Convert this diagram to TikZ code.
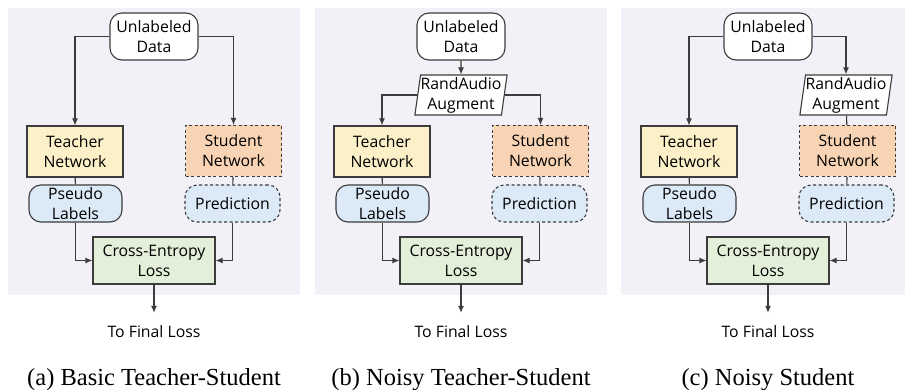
\documentclass[tikz,border=0pt]{standalone}
\usepackage{fontspec}
\setmainfont{Liberation Serif}
\setsansfont{Open Sans}
\usetikzlibrary{arrows.meta,positioning,shapes.geometric}
\definecolor{panelbg}{RGB}{241,241,247}
\definecolor{edge}{RGB}{60,60,60}
\definecolor{teacherfill}{RGB}{252,240,200}
\definecolor{studentfill}{RGB}{248,212,180}
\definecolor{labelfill}{RGB}{220,233,246}
\definecolor{lossfill}{RGB}{227,239,217}

% teacher/student branches, loss and caption shared by all three panels
\newcommand{\tsbody}[1]{%
  \node[netbox,fill=teacherfill] (teacher) at (75,151.5) {Teacher\\Network};
  \node[netbox,dashed,fill=studentfill] (student) at (233.5,151) {Student\\Network};
  \node[outbox,minimum width=93pt] (pseudo) at (75.5,203.5) {Pseudo\\Labels};
  \node[outbox,dashed,minimum width=95pt] (pred) at (232.5,203.5) {Prediction};
  \node[box,fill=lossfill,minimum width=122pt,minimum height=47pt] (ce) at (154,260.5) {Cross-Entropy\\Loss};
  \node[anchor=base,inner sep=0pt] (final) at (154,337) {To Final Loss};
  \node[caption] (cap) at (154,385) {#1};
  \draw[wire] (teacher) -- (pseudo);
  \draw[wire] (student) -- (pred);
  \draw[arrow] (pseudo.south) |- (ce.west);
  \draw[arrow] (pred.south) |- (ce.east);
  \draw[arrow] (ce.south) -- ([yshift=12pt]final.north);
}

\begin{document}
\begin{tikzpicture}[
    x=1pt,y=-1pt,
    font=\sffamily\fontsize{15.8}{20}\selectfont,
    box/.style={draw=edge,line width=1.1pt,align=center,inner sep=0pt},
    netbox/.style={box,minimum width=96pt,minimum height=51pt},
    outbox/.style={box,rounded corners=12pt,fill=labelfill,minimum height=37pt},
    databox/.style={box,rounded corners=12pt,fill=white,minimum width=88pt,minimum height=47pt},
    augbox/.style={box,trapezium,trapezium left angle=81,trapezium right angle=99,
                   fill=white,minimum width=92pt,minimum height=40pt,trapezium stretches body},
    caption/.style={anchor=base,inner sep=0pt,font=\rmfamily\fontsize{24.5}{28}\selectfont},
    wire/.style={draw=edge,line width=1.1pt},
    arrow/.style={wire,-{Latex[length=7pt,width=6pt]}},
    dashed/.style={dash pattern=on 3pt off 2.5pt}
  ]
  \useasboundingbox (0,0) rectangle (905,390);

  % (a) basic
  \begin{scope}[name prefix=a-]
    \fill[panelbg] (8,8) rectangle (300,295);
    \node[databox] (data) at (154,36.5) {Unlabeled\\Data};
    \tsbody{(a) Basic Teacher-Student}
    \draw[arrow] (data.west) -| (teacher.north);
    \draw[arrow] (data.east) -| (student.north);
  \end{scope}

  % (b) augmentation before both networks
  \begin{scope}[xshift=307pt,name prefix=b-]
    \fill[panelbg] (8,8) rectangle (300,295);
    \node[databox] (data) at (154,36.5) {Unlabeled\\Data};
    \node[augbox] (aug) at (154,95) {RandAudio\\Augment};
    \tsbody{(b) Noisy Teacher-Student}
    \draw[arrow] (data) -- (aug);
    \draw[arrow] (aug.west) -| (teacher.north);
    \draw[arrow] (aug.east) -| (student.north);
  \end{scope}

  % (c) augmentation on the student side only
  \begin{scope}[xshift=614pt,name prefix=c-]
    \fill[panelbg] (7,8) rectangle (291,295);
    \node[databox] (data) at (154,36.5) {Unlabeled\\Data};
    \node[augbox] (aug) at (232,95) {RandAudio\\Augment};
    \tsbody{(c) Noisy Student}
    \draw[arrow] (data.west) -| (teacher.north);
    \draw[arrow] (data.east) -| (aug.north);
    \draw[wire] (aug) -- (student);
  \end{scope}
\end{tikzpicture}
\end{document}
